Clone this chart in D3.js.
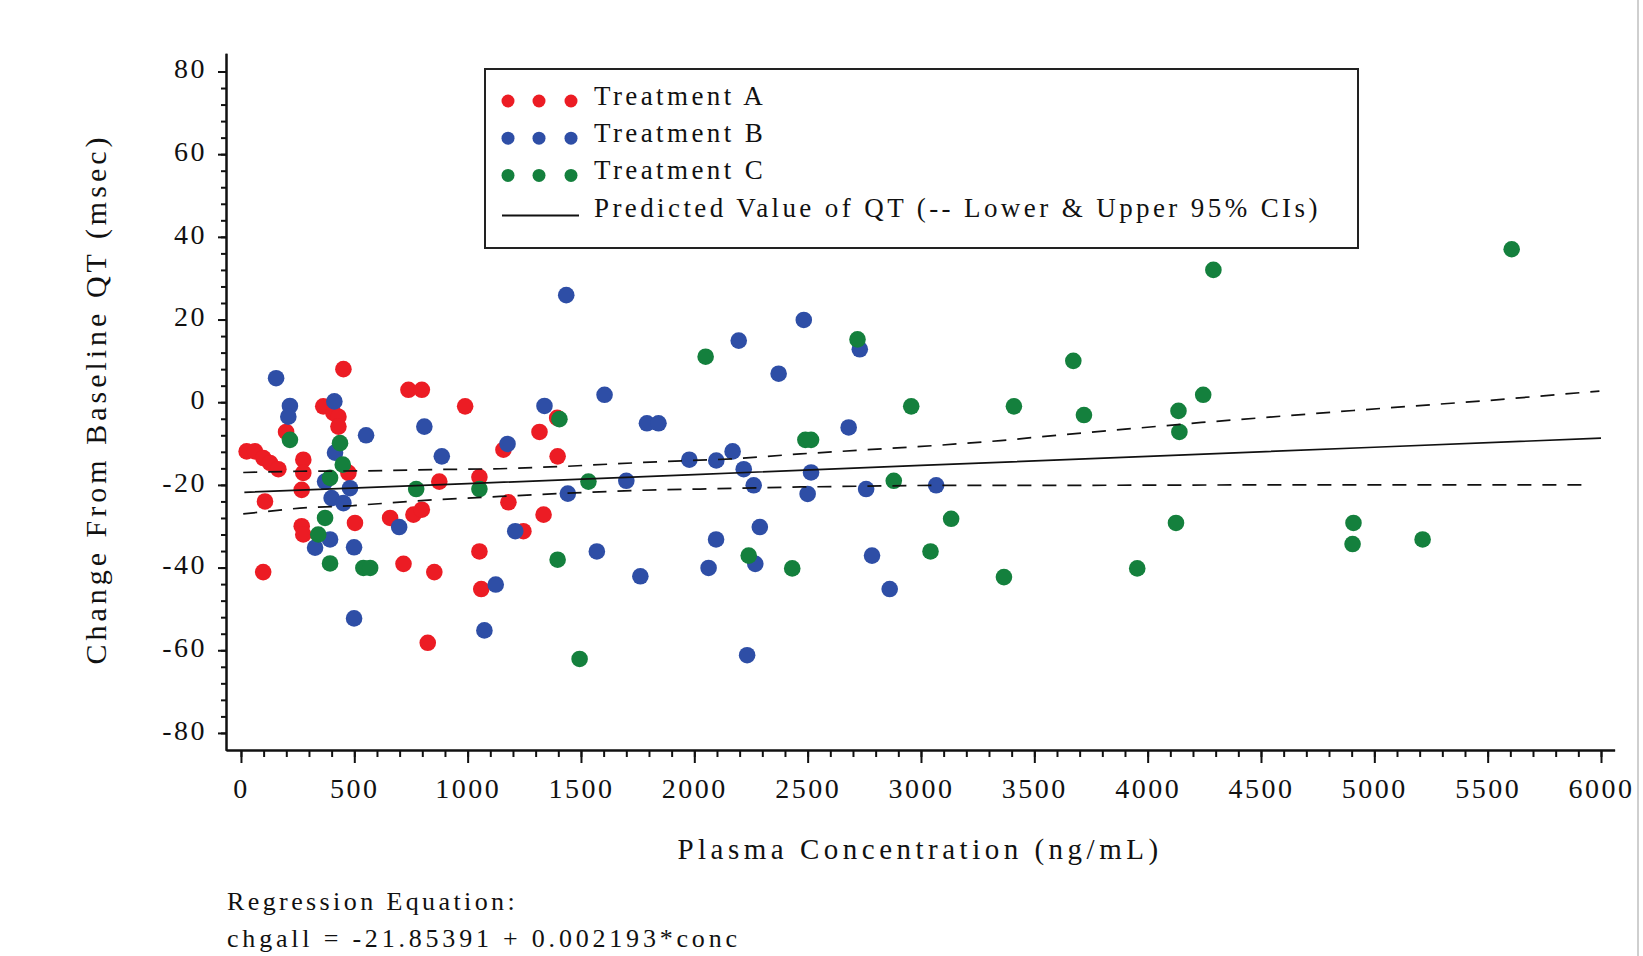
<!DOCTYPE html>
<html>
<head>
<meta charset="utf-8">
<script src="https://cdn.jsdelivr.net/npm/d3@7"></script>
<style>
  html, body { margin: 0; padding: 0; background: #fff; }
  svg { display: block; font-family: "Liberation Serif", "Times New Roman", serif; fill: #111; }
</style>
</head>
<body>
<svg id="chart" width="1643" height="956"></svg>
<script>
// Treatment A
const concA = [25, 62, 99, 128, 165, 106, 98, 199, 275, 275, 268, 268, 275, 363, 408, 430, 430, 452, 474, 503,
  658, 717, 739, 798, 761, 798, 824, 853, 875, 989, 1052, 1052, 1060, 1158, 1180, 1246, 1317, 1335, 1397, 1395];
const qtA = [-11.9, -11.9, -13.5, -14.7, -16.2, -24.0, -41.1, -7.2, -13.9, -17.1, -21.2, -30.0, -32.0, -1.0, -2.6, -3.5, -5.9, 8.0, -17.1, -29.2,
  -28.0, -39.1, 3.0, 3.0, -27.2, -26.0, -58.2, -41.1, -19.2, -1.0, -18.1, -36.1, -45.2, -11.5, -24.2, -31.2, -7.2, -27.2, -13.1, -3.8];

// Treatment B
const concB = [155, 216, 209, 412, 552, 415, 371, 400, 452, 481, 393, 327, 499, 499, 698, 809, 886, 1074, 1124, 1176,
  1210, 1339, 1435, 1442, 1570, 1604, 1700, 1762, 1791, 1842, 1978, 2097, 2169, 2218, 2262, 2196, 2483, 2372, 2730, 2681,
  2515, 2500, 2758, 3067, 2289, 2096, 2063, 2269, 2784, 2862, 2233];
const qtB = [5.8, -0.9, -3.5, 0.2, -8.0, -12.2, -19.2, -23.2, -24.4, -20.8, -33.2, -35.2, -35.1, -52.3, -30.2, -5.9, -13.1, -55.2, -44.1, -10.1,
  -31.2, -0.9, 25.9, -22.1, -36.1, 1.8, -19.0, -42.1, -5.1, -5.1, -13.9, -14.1, -11.9, -16.2, -20.1, 14.9, 19.9, 6.9, 12.8, -6.1,
  -17.0, -22.2, -21.0, -20.1, -30.2, -33.2, -40.1, -39.1, -37.1, -45.2, -61.2];

// Treatment C
const concC = [216, 437, 449, 393, 371, 341, 393, 540, 570, 773, 1052, 1397, 1405, 1533, 1494, 2050, 2720, 2957, 3410, 3672,
  3719, 2490, 2515, 2880, 3133, 3042, 3366, 2432, 2240, 5606, 4290, 4245, 4136, 4140, 4125, 3954, 4908, 4904, 5213];
const qtC = [-9.1, -9.9, -15.1, -18.3, -28.0, -32.0, -39.0, -40.1, -40.1, -21.0, -21.0, -38.1, -4.1, -19.2, -62.1, 11.0, 15.2, -1.0, -1.0, 10.0,
  -3.1, -9.1, -9.1, -19.0, -28.2, -36.1, -42.3, -40.2, -37.1, 37.0, 32.0, 1.8, -2.1, -7.2, -29.2, -40.2, -29.2, -34.3, -33.2];

// Predicted value and 95% CIs
const predConc = [15, 1000, 2000, 3000, 4000, 5000, 6000];
const predQt = [-21.8, -19.7, -17.5, -15.3, -13.1, -10.9, -8.7];
const upperConc = [10, 260, 555, 848, 1143, 1438, 1762, 2174, 2468, 2762, 3057, 3351, 3616, 4238, 4908, 5500, 5993];
const upperQt = [-17.0, -16.7, -16.6, -16.3, -16.1, -15.5, -14.6, -13.7, -12.5, -11.5, -10.5, -9.3, -7.9, -4.9, -2.0, 0.4, 2.7];
const lowerConc = [10, 260, 496, 848, 1143, 1438, 1762, 2026, 2468, 3055, 3734, 4500, 5950];
const lowerQt = [-27.0, -25.6, -25.0, -23.6, -22.8, -22.0, -21.3, -21.0, -20.5, -20.1, -20.1, -20.0, -20.0];

const xTicks = d3.range(0, 6001, 500);
const yTicks = d3.range(-80, 81, 20);

const series = [
  {name: 'Treatment A', color: '#ec1c24', conc: concA, qt: qtA},
  {name: 'Treatment B', color: '#2e4ea6', conc: concB, qt: qtB},
  {name: 'Treatment C', color: '#14803d', conc: concC, qt: qtC}
];

const svg = d3.select('#chart');
const x = d3.scaleLinear().domain([-66, 6060]).range([226, 1614.6]);
const y = d3.scaleLinear().domain([-84.2, 84.4]).range([750.3, 53.3]);

// Screenshot edge
svg.append('line').
  attr('x1', 1638).attr('x2', 1638).attr('y1', 0).attr('y2', 956).
  attr('stroke', '#cfcfcf').attr('stroke-width', 2);

// Axes: minor ticks first, then majors with labels (plain hyphen for negatives)
const plain = (d) => String(d);

function styleAxis(g) {
  g.selectAll('path, line').attr('stroke', '#111').attr('stroke-width', 2);
  g.selectAll('text').
    attr('fill', '#111').
    style('font-size', '28px').
    style('letter-spacing', '2.5px').
    style('font-family', '"Liberation Serif", serif');
}

svg.append('g').
  attr('transform', 'translate(0,750)').
  call(d3.axisBottom(x).tickValues(d3.range(0, 6001, 100)).tickSize(7).tickSizeOuter(0).tickFormat('')).
  call(styleAxis);
svg.append('g').
  attr('transform', 'translate(0,750)').
  call(d3.axisBottom(x).tickValues(xTicks).tickSize(13).tickSizeOuter(0).tickPadding(15).tickFormat(plain)).
  call(styleAxis);

svg.append('g').
  attr('transform', 'translate(226,0)').
  call(d3.axisLeft(y).tickValues(d3.range(-80, 81, 4)).tickSize(5).tickSizeOuter(0).tickFormat('')).
  call(styleAxis);
svg.append('g').
  attr('transform', 'translate(226,0)').
  call(d3.axisLeft(y).tickValues(yTicks).tickSize(8).tickSizeOuter(0).tickPadding(11).tickFormat(plain)).
  call(styleAxis).
  selectAll('text').attr('dy', '0.22em');

// Points: A, then B, then C on top
series.forEach((s) => {
  svg.append('g').
    selectAll('circle').
    data(s.conc.map((c, i) => [c, s.qt[i]])).
    join('circle').
      attr('cx', (d) => x(d[0])).
      attr('cy', (d) => y(d[1])).
      attr('r', 8.3).
      attr('fill', s.color);
});

// Regression line and confidence limits
const line = d3.line().x((d) => x(d[0])).y((d) => y(d[1]));
const lines = [
  {conc: predConc, qt: predQt, dash: null},
  {conc: upperConc, qt: upperQt, dash: '14,11'},
  {conc: lowerConc, qt: lowerQt, dash: '14,11'}
];
lines.forEach((l) => {
  svg.append('path').
    attr('d', line(l.conc.map((c, i) => [c, l.qt[i]]))).
    attr('fill', 'none').
    attr('stroke', '#111').
    attr('stroke-width', 1.7).
    attr('stroke-dasharray', l.dash);
});

// Legend
const legend = svg.append('g');
legend.append('rect').
  attr('x', 485).attr('y', 69).attr('width', 873).attr('height', 179).
  attr('fill', '#fff').attr('stroke', '#222').attr('stroke-width', 2);

const rowY = (i) => 105 + i * 37.2;
series.forEach((s, i) => {
  legend.selectAll(null).
    data([508, 539, 571]).
    join('circle').
      attr('cx', (d) => d).
      attr('cy', rowY(i) - 4).
      attr('r', 6.5).
      attr('fill', s.color);
});
legend.append('line').
  attr('x1', 502).attr('x2', 579).attr('y1', rowY(3) - 1).attr('y2', rowY(3) - 1).
  attr('stroke', '#111').attr('stroke-width', 2);

legend.selectAll('text').
  data(series.map((s) => s.name).concat(['Predicted Value of QT (-- Lower & Upper 95% CIs)'])).
  join('text').
    attr('x', 594).
    attr('y', (d, i) => rowY(i)).
    style('font-size', '27px').
    style('letter-spacing', '3.4px').
    text((d) => d);

// Axis titles
svg.append('text').
  attr('x', 920).attr('y', 859).
  attr('text-anchor', 'middle').
  style('font-size', '29px').
  style('letter-spacing', '4.5px').
  text('Plasma Concentration (ng/mL)');

svg.append('text').
  attr('transform', 'translate(106,399) rotate(-90)').
  attr('text-anchor', 'middle').
  style('font-size', '30px').
  style('letter-spacing', '4px').
  text('Change From Baseline QT (msec)');

// Regression equation
svg.append('text').
  attr('x', 227).attr('y', 910).
  style('font-size', '26px').
  style('letter-spacing', '3.4px').
  text('Regression Equation:');
svg.append('text').
  attr('x', 227).attr('y', 947).
  style('font-size', '26px').
  style('letter-spacing', '3.8px').
  text('chgall = -21.85391 + 0.002193*conc');
</script>
</body>
</html>
